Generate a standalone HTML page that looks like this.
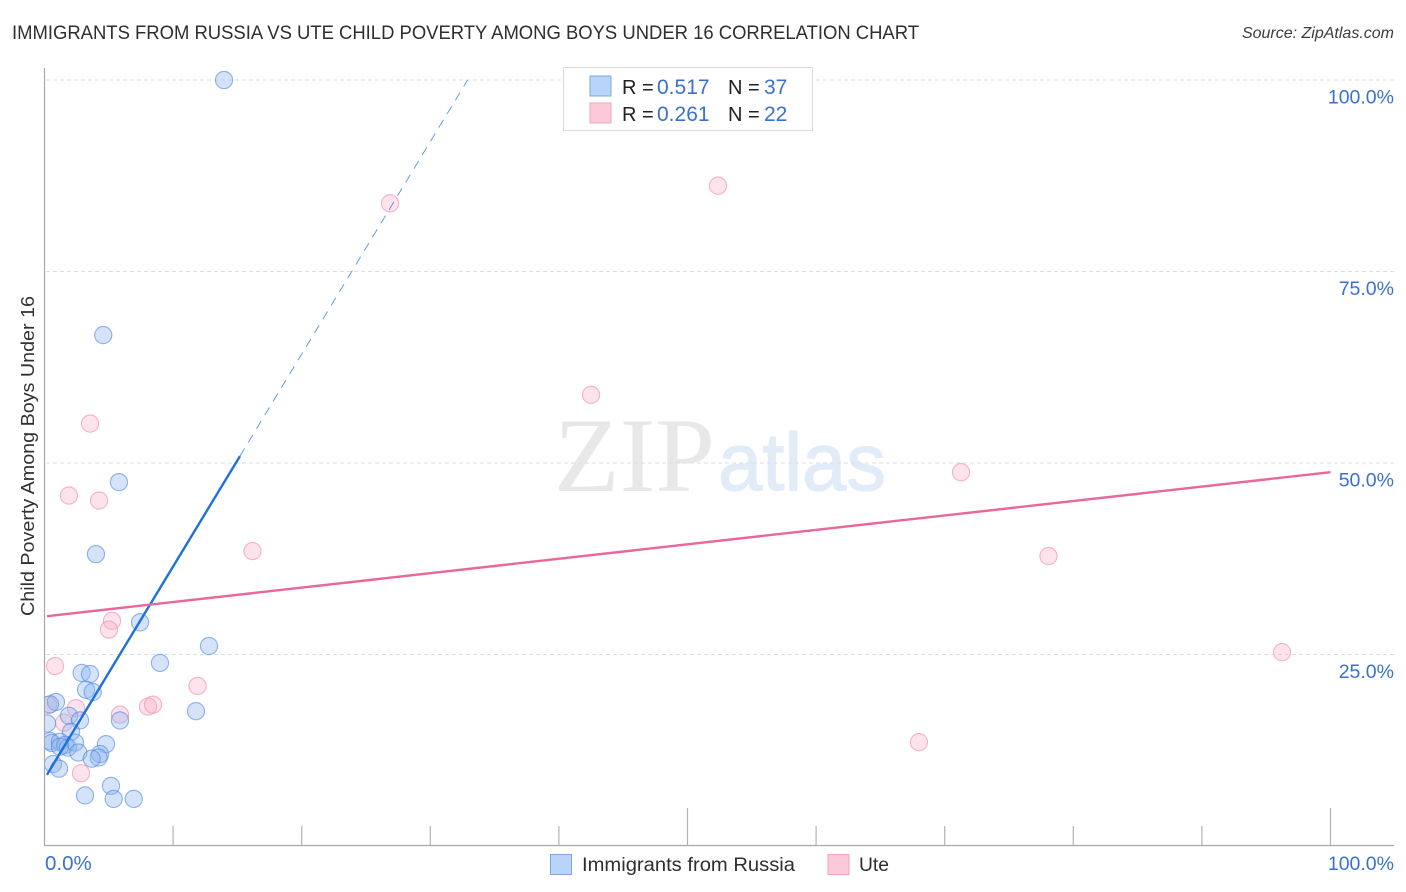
<!DOCTYPE html>
<html lang="en">
<head>
<meta charset="utf-8">
<title>Immigrants from Russia vs Ute Child Poverty Among Boys Under 16 Correlation Chart</title>
<style>
html,body{margin:0;padding:0;background:#fff;width:1406px;height:892px;overflow:hidden}
svg{display:block;font-family:"Liberation Sans",sans-serif}
</style>
</head>
<body>
<svg id="chart" width="1406" height="892" viewBox="0 0 1406 892" xmlns="http://www.w3.org/2000/svg">
  <defs><clipPath id="plot-clip"><rect x="45" y="60" width="1349" height="786"/></clipPath></defs>
  <text x="12" y="39" font-size="19" fill="#2b2f33" textLength="907" lengthAdjust="spacingAndGlyphs">IMMIGRANTS FROM RUSSIA VS UTE CHILD POVERTY AMONG BOYS UNDER 16 CORRELATION CHART</text>
  <text x="1394" y="38" font-size="16" font-style="italic" fill="#3a3d40" text-anchor="end">Source: ZipAtlas.com</text>

  <g>
    <text x="554" y="491" font-family="'Liberation Serif',serif" font-size="106" fill="#e8e8e8" textLength="161" lengthAdjust="spacingAndGlyphs">ZIP</text>
    <text x="718" y="490" font-size="82" fill="#e2ebf8" stroke="#e2ebf8" stroke-width="1.2" textLength="168" lengthAdjust="spacingAndGlyphs">atlas</text>
  </g>

  <g id="grid"></g>
  <g id="axes"></g>
  <g id="y-labels"></g>
  <g id="x-labels"></g>

  <text transform="translate(34,456) rotate(-90)" font-size="18.5" fill="#2f3235" text-anchor="middle" textLength="320" lengthAdjust="spacingAndGlyphs">Child Poverty Among Boys Under 16</text>

  <g id="points" clip-path="url(#plot-clip)"></g>
  <g id="trends"></g>

  <g>
    <rect x="563.5" y="67.5" width="249" height="63" fill="#fff" stroke="#dcdcdc"/>
    <rect x="590" y="76" width="21" height="20" fill="#b9d4f9" stroke="#7fa8e3" stroke-width="1"/>
    <rect x="590" y="103" width="21" height="20" fill="#fcc9da" stroke="#f2a3bd" stroke-width="1"/>
    <text y="94" font-size="20" fill="#222"><tspan x="622">R =</tspan><tspan x="657" fill="#3b70cf" font-size="21">0.517</tspan><tspan x="728">N =</tspan><tspan x="764" fill="#3b70cf" font-size="21">37</tspan></text>
    <text y="121" font-size="20" fill="#222"><tspan x="622">R =</tspan><tspan x="657" fill="#3b70cf" font-size="21">0.261</tspan><tspan x="728">N =</tspan><tspan x="764" fill="#3b70cf" font-size="21">22</tspan></text>
  </g>

  <g>
    <rect x="550.5" y="854.5" width="21" height="20" fill="#b9d4f9" stroke="#7fa8e3"/>
    <text x="582" y="871" font-size="19.5" fill="#2b2f33" textLength="213" lengthAdjust="spacingAndGlyphs">Immigrants from Russia</text>
    <rect x="828" y="854.5" width="21" height="20" fill="#fcc9da" stroke="#f2a3bd"/>
    <text x="859" y="871" font-size="19.5" fill="#2b2f33" textLength="30" lengthAdjust="spacingAndGlyphs">Ute</text>
  </g>
</svg>
<script>
const xTicks = [0, 10, 20, 30, 40, 50, 60, 70, 80, 90, 100];
const yTicks = [25, 50, 75, 100];
const yTickLabels = ['25.0%', '50.0%', '75.0%', '100.0%'];
const xEndLabels = ['0.0%', '100.0%'];
const russiaX = [13.96, 4.57, 5.79, 4.0, 7.43, 12.79, 8.98, 2.89, 3.54, 3.23, 3.75, 0.89, 0.43, 11.78, 1.9, 2.76, 5.87, 2.06, 4.78, 0.43, 0.56, 1.2, 1.6, 1.83, 2.37, 2.63, 4.32, 4.21, 3.67, 0.66, 1.13, 5.17, 3.15, 5.38, 6.94, 1.2, 0.2];
const russiaY = [100, 66.7, 47.5, 38.1, 29.2, 26.1, 23.9, 22.6, 22.45, 20.4, 20.1, 18.8, 18.5, 17.6, 17.0, 16.4, 16.4, 14.9, 13.3, 13.7, 13.45, 13.6, 13.2, 12.85, 13.5, 12.2, 12.0, 11.55, 11.4, 10.7, 10.1, 7.85, 6.6, 6.15, 6.15, 12.95, 16.0];
const uteX = [52.37, 26.87, 42.5, 3.54, 1.9, 4.24, 71.27, 16.17, 78.07, 5.25, 5.01, 96.23, 0.82, 11.9, 8.05, 8.44, 5.87, 2.45, 1.52, 0.27, 68.0, 2.84];
const uteY = [86.2, 83.9, 58.9, 55.15, 45.75, 45.1, 48.8, 38.5, 37.85, 29.4, 28.25, 25.3, 23.5, 20.9, 18.2, 18.45, 17.15, 18.0, 16.1, 18.4, 13.55, 9.5];
const russiaTrend = [[0.19, 9.3], [15.2, 50.9], [32.9, 100]];
const uteTrend = [[0.19, 30], [100, 48.8]];

const NS = 'http://www.w3.org/2000/svg';
const sx = v => 44.5 + v * 12.86;
const sy = v => 846 - v * 7.66;
function make(tag, attrs, parent, text) {
  const el = document.createElementNS(NS, tag);
  for (const k in attrs) el.setAttribute(k, attrs[k]);
  if (text !== undefined) el.textContent = text;
  parent.appendChild(el);
  return el;
}
const gridG = document.getElementById('grid');
const axesG = document.getElementById('axes');
const yLabG = document.getElementById('y-labels');
const xLabG = document.getElementById('x-labels');
const ptsG = document.getElementById('points');
const trG = document.getElementById('trends');

yTicks.forEach((t, i) => {
  const g = make('line', {x1: 46, x2: 1394, y1: sy(t), y2: sy(t), stroke: '#dedede', 'stroke-width': 1, 'stroke-dasharray': '4 3'}, gridG);
  
  
  const l = make('text', {x: 1394, y: sy(t) + 23.5, 'font-size': 19.5, fill: '#3b70cf', 'text-anchor': 'end'}, yLabG, yTickLabels[i]);
  
  
});

const yAxis = make('line', {x1: 44.5, x2: 44.5, y1: 68, y2: 846, stroke: '#a8a8a8', 'stroke-width': 1.2}, axesG);


const xAxis = make('line', {x1: 44, x2: 1394, y1: 845.5, y2: 845.5, stroke: '#a8a8a8', 'stroke-width': 1.2}, axesG);


xTicks.slice(1).forEach(t => {
  const top = (t === 50 || t === 100) ? 808 : 826;
  const tk = make('line', {x1: sx(t), x2: sx(t), y1: top, y2: 845, stroke: '#b4b4b4', 'stroke-width': 1.2}, axesG);
  
  
});
const x0 = make('text', {x: 45, y: 870, 'font-size': 20.5, fill: '#3b70cf'}, xLabG, xEndLabels[0]);


const x1 = make('text', {x: 1394, y: 870, 'font-size': 19.5, fill: '#3b70cf', 'text-anchor': 'end'}, xLabG, xEndLabels[1]);



uteX.forEach((v, i) => {
  const c = make('circle', {cx: sx(v), cy: sy(uteY[i]), r: 8.6, fill: '#f8a8c4', 'fill-opacity': 0.32, stroke: '#ee86a8', 'stroke-opacity': 0.6, 'stroke-width': 1.1}, ptsG);
  
  
});
russiaX.forEach((v, i) => {
  const c = make('circle', {cx: sx(v), cy: sy(russiaY[i]), r: 8.6, fill: '#8db6ee', 'fill-opacity': 0.38, stroke: '#4c86dc', 'stroke-opacity': 0.6, 'stroke-width': 1.1}, ptsG);
  
  
});

const rs = make('line', {x1: sx(russiaTrend[0][0]), y1: sy(russiaTrend[0][1]), x2: sx(russiaTrend[1][0]), y2: sy(russiaTrend[1][1]), stroke: '#2070dc', 'stroke-width': 2.4}, trG);


const rd = make('line', {x1: sx(russiaTrend[1][0]), y1: sy(russiaTrend[1][1]), x2: sx(russiaTrend[2][0]), y2: sy(russiaTrend[2][1]), stroke: '#2070dc', 'stroke-width': 1, 'stroke-dasharray': '9 7', 'stroke-opacity': 0.7}, trG);


const ut = make('line', {x1: sx(uteTrend[0][0]), y1: sy(uteTrend[0][1]), x2: sx(uteTrend[1][0]), y2: sy(uteTrend[1][1]), stroke: '#e9679a', 'stroke-width': 2.4}, trG);


</script>
</body>
</html>
